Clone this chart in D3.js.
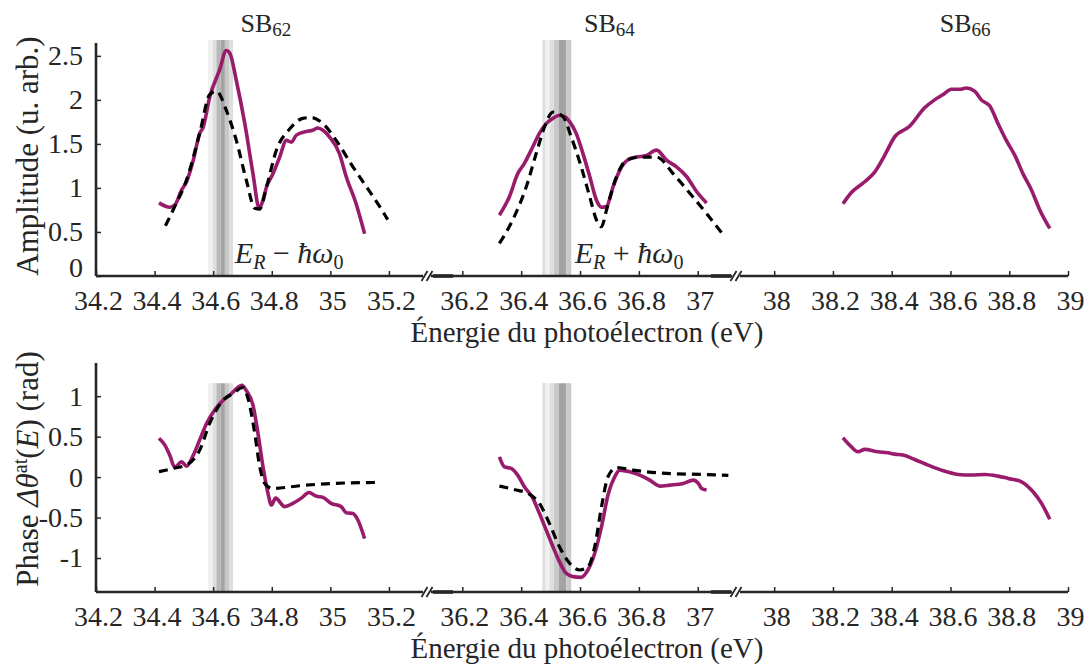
<!DOCTYPE html>
<html><head><meta charset="utf-8">
<script src="https://cdn.jsdelivr.net/npm/d3@7"></script>
<style>
body{margin:0;background:#fff}
svg{display:block}
text{font-family:"Liberation Serif","Times New Roman",serif;fill:#262626}
</style>
</head><body>
<svg id="c" width="1089" height="668"></svg>
<script>
// ---------- data ----------
const segDomains = [[34.2, 35.33], [36.08, 37.13], [37.87, 39.0]];
const segTicks = [[34.2, 34.4, 34.6, 34.8, 35, 35.2], [36.2, 36.4, 36.6, 36.8, 37], [38, 38.2, 38.4, 38.6, 38.8, 39]];
const sidebandNames = ["62", "64", "66"];
const sidebandTitleE = [34.78, 36.70, 38.65];
const ampTicks = [0, 0.5, 1, 1.5, 2, 2.5];
const phaseTicks = [-1, -0.5, 0, 0.5, 1];
const xLabel = "Énergie du photoélectron (eV)";
const ampLabel = "Amplitude (u. arb.)";

const ampExp62 = [[34.415,0.83],[34.452,0.78],[34.469,0.805],[34.492,0.975],[34.509,1.07],[34.532,1.315],[34.554,1.62],[34.566,1.69],[34.588,2.03],[34.622,2.34],[34.645,2.56],[34.657,2.53],[34.679,2.22],[34.708,1.73],[34.736,1.16],[34.757,0.77],[34.770,0.86],[34.782,1.01],[34.804,1.16],[34.827,1.35],[34.850,1.54],[34.867,1.52],[34.884,1.60],[34.918,1.64],[34.940,1.655],[34.957,1.68],[34.975,1.655],[34.997,1.58],[35.031,1.39],[35.054,1.13],[35.088,0.82],[35.117,0.48]];
const ampModel62 = [[34.437,0.57],[34.469,0.79],[34.509,1.09],[34.554,1.62],[34.588,2.06],[34.611,2.10],[34.645,1.88],[34.679,1.54],[34.713,1.09],[34.742,0.77],[34.759,0.76],[34.782,1.01],[34.816,1.43],[34.861,1.67],[34.906,1.79],[34.935,1.80],[34.975,1.73],[35.020,1.54],[35.077,1.24],[35.134,0.96],[35.168,0.79],[35.196,0.64]];
const ampExp64 = [[36.326,0.69],[36.360,0.90],[36.388,1.16],[36.411,1.28],[36.440,1.47],[36.462,1.62],[36.485,1.73],[36.508,1.79],[36.530,1.825],[36.548,1.81],[36.565,1.75],[36.587,1.62],[36.610,1.39],[36.633,1.13],[36.656,0.86],[36.673,0.78],[36.690,0.79],[36.712,1.01],[36.735,1.20],[36.763,1.32],[36.792,1.35],[36.826,1.37],[36.860,1.43],[36.894,1.315],[36.928,1.24],[36.962,1.13],[36.996,0.96],[37.030,0.83]];
const ampModel64 = [[36.326,0.37],[36.371,0.635],[36.417,1.01],[36.451,1.39],[36.479,1.69],[36.508,1.86],[36.542,1.81],[36.570,1.58],[36.604,1.24],[36.633,0.90],[36.656,0.635],[36.673,0.56],[36.690,0.75],[36.724,1.13],[36.758,1.315],[36.803,1.35],[36.860,1.35],[36.917,1.16],[36.973,0.94],[37.030,0.71],[37.087,0.465]];
const ampExp66 = [[38.234,0.82],[38.262,0.945],[38.308,1.07],[38.342,1.18],[38.376,1.37],[38.410,1.58],[38.461,1.70],[38.512,1.91],[38.546,2.00],[38.575,2.06],[38.603,2.12],[38.631,2.12],[38.654,2.135],[38.682,2.10],[38.705,2.00],[38.734,1.93],[38.762,1.73],[38.790,1.54],[38.819,1.37],[38.847,1.16],[38.876,0.975],[38.904,0.75],[38.938,0.54]];

const phaseExp62 = [[34.415,0.48],[34.435,0.395],[34.452,0.27],[34.469,0.12],[34.492,0.19],[34.509,0.135],[34.532,0.27],[34.554,0.46],[34.577,0.66],[34.605,0.83],[34.634,0.95],[34.662,1.03],[34.685,1.11],[34.698,1.135],[34.713,1.07],[34.736,0.89],[34.753,0.54],[34.770,0.13],[34.787,-0.20],[34.799,-0.345],[34.813,-0.26],[34.844,-0.365],[34.872,-0.325],[34.901,-0.26],[34.927,-0.19],[34.952,-0.235],[34.975,-0.25],[35.003,-0.325],[35.037,-0.365],[35.054,-0.44],[35.077,-0.45],[35.094,-0.53],[35.117,-0.76]];
const phaseModel62 = [[34.415,0.066],[34.463,0.107],[34.514,0.16],[34.554,0.333],[34.588,0.663],[34.634,0.951],[34.668,1.033],[34.702,1.107],[34.719,0.971],[34.742,0.540],[34.759,0.127],[34.776,-0.078],[34.804,-0.140],[34.895,-0.107],[35.009,-0.078],[35.162,-0.066]];
const phaseExp64 = [[36.326,0.25],[36.343,0.127],[36.366,0.107],[36.388,0.025],[36.411,-0.119],[36.440,-0.263],[36.462,-0.449],[36.485,-0.654],[36.508,-0.86],[36.530,-1.045],[36.553,-1.189],[36.576,-1.23],[36.604,-1.239],[36.627,-1.148],[36.650,-0.942],[36.673,-0.613],[36.695,-0.222],[36.718,0.004],[36.735,0.086],[36.769,0.066],[36.803,0.025],[36.837,-0.037],[36.871,-0.111],[36.905,-0.099],[36.951,-0.078],[36.985,-0.037],[37.002,-0.078],[37.013,-0.14],[37.030,-0.16]];
const phaseModel64 = [[36.326,-0.111],[36.383,-0.16],[36.423,-0.201],[36.462,-0.325],[36.496,-0.572],[36.530,-0.86],[36.565,-1.066],[36.599,-1.148],[36.627,-1.107],[36.650,-0.86],[36.673,-0.366],[36.695,0.004],[36.724,0.119],[36.780,0.086],[36.894,0.045],[37.008,0.033],[37.104,0.021]];
const phaseExp66 = [[38.234,0.486],[38.257,0.395],[38.285,0.313],[38.308,0.342],[38.353,0.313],[38.387,0.300],[38.410,0.284],[38.438,0.272],[38.478,0.218],[38.524,0.148],[38.569,0.086],[38.626,0.033],[38.671,0.025],[38.717,0.033],[38.762,0.012],[38.796,-0.016],[38.842,-0.058],[38.881,-0.181],[38.910,-0.325],[38.938,-0.522]];

// resonance bands: [E start, E end, shade level]
const bandSB62 = [[34.583,34.598,0],[34.598,34.611,1],[34.611,34.625,3],[34.625,34.640,4],[34.640,34.654,2],[34.654,34.668,1]];
const bandSB64 = [[36.472,36.483,1],[36.483,36.496,0],[36.496,36.511,1],[36.511,36.527,2],[36.527,36.553,4],[36.553,36.570,2]];
const annotE = [34.674, 36.582];
const annotSign = ["−", "+"];

// ---------- layout ----------
const svg = d3.select("#c");
const ink = "#262626", purple = "#991b6b";
const xLeft = 96, xRight = 1068, breaks = [427, 736];
const segRanges = [[xLeft, breaks[0]], [breaks[0], breaks[1]], [breaks[1], xRight]];
const xs = segDomains.map((d, i) => d3.scaleLinear().domain(d).range(segRanges[i]));
const shade = ["#f0f0f0", "#dedede", "#c9c9c9", "#b8b8b8", "#a3a3a3"];

const panels = [
  { axisTop: 43, range: [276, 40], domain: [0, 2.68], ticks: ampTicks, bandTop: 2.68,
    exp: [ampExp62, ampExp64, ampExp66], model: [ampModel62, ampModel64, null] },
  { axisTop: 363, range: [592, 363], domain: [-1.42, 1.41], ticks: phaseTicks, bandTop: 1.16,
    exp: [phaseExp62, phaseExp64, phaseExp66], model: [phaseModel62, phaseModel64, null] }
];
const bands = [bandSB62, bandSB64];

panels.forEach((p, pi) => {
  const y = d3.scaleLinear().domain(p.domain).range(p.range);
  const g = svg.append("g");
  const y0 = p.range[0];

  // bands
  bands.forEach((b, si) => {
    g.selectAll(null).data(b).enter().append("rect")
      .attr("x", d => xs[si](d[0]))
      .attr("width", d => xs[si](d[1]) - xs[si](d[0]))
      .attr("y", y(p.bandTop))
      .attr("height", y(p.domain[0]) - y(p.bandTop))
      .attr("fill", d => shade[d[2]]);
  });

  // curves
  xs.forEach((x, si) => {
    const line = d3.line().x(d => x(d[0])).y(d => y(d[1])).curve(d3.curveMonotoneX);
    g.append("path").datum(p.exp[si]).attr("d", line)
      .attr("fill", "none").attr("stroke", purple).attr("stroke-width", 3.6)
      .attr("stroke-linejoin", "round").attr("stroke-linecap", "butt");
    if (p.model[si]) {
      g.append("path").datum(p.model[si]).attr("d", line)
        .attr("fill", "none").attr("stroke", "#000").attr("stroke-width", 3.2)
        .attr("stroke-dasharray", "9,6");
    }
  });

  // y axis
  const ya = g.append("g").attr("transform", `translate(${xLeft},0)`)
    .call(d3.axisLeft(y).tickValues(p.ticks).tickSize(-5).tickPadding(13).tickFormat(d => String(d)));
  ya.select(".domain").remove();
  ya.selectAll("line").attr("stroke", ink).attr("stroke-width", 1.5);
  ya.selectAll("text").attr("font-size", 28).attr("font-family", "Liberation Serif").attr("fill", ink)
    .attr("dy", (d) => (pi === 0 && d === 0) ? "0em" : "0.32em");
  g.append("line").attr("x1", xLeft).attr("x2", xLeft).attr("y1", p.axisTop).attr("y2", y0)
    .attr("stroke", ink).attr("stroke-width", 2.6);

  // x axes per segment
  xs.forEach((x, si) => {
    const xa = g.append("g").attr("transform", `translate(0,${y0})`)
      .call(d3.axisBottom(x).tickValues(segTicks[si]).tickSize(-5).tickPadding(14).tickFormat(d => String(d)));
    xa.select(".domain").remove();
    xa.selectAll("line").attr("stroke", ink).attr("stroke-width", 1.5);
    xa.selectAll("text").attr("font-size", 28).attr("font-family", "Liberation Serif").attr("fill", ink).attr("dx", 2);
  });
  // axis line with breaks
  const gap = 4;
  [[xLeft, breaks[0] - gap], [breaks[0] + gap, breaks[1] - gap], [breaks[1] + gap, xRight]].forEach(s => {
    g.append("line").attr("x1", s[0]).attr("x2", s[1]).attr("y1", y0).attr("y2", y0)
      .attr("stroke", ink).attr("stroke-width", 2.6);
  });
  g.append("line").attr("x1", breaks[0] + 6).attr("x2", breaks[0] + 26).attr("y1", y0).attr("y2", y0)
    .attr("stroke", ink).attr("stroke-width", 3.6);
  g.append("line").attr("x1", breaks[1] - 25).attr("x2", breaks[1] - 5).attr("y1", y0).attr("y2", y0)
    .attr("stroke", ink).attr("stroke-width", 3.6);
  breaks.forEach(bx => {
    [-2.5, 2.5].forEach(o => {
      g.append("line").attr("x1", bx + o - 3).attr("x2", bx + o + 3).attr("y1", y0 + 5).attr("y2", y0 - 5)
        .attr("stroke", ink).attr("stroke-width", 1.8);
    });
  });

  // x label
  g.append("text").attr("x", 587).attr("y", y0 + 66).attr("text-anchor", "middle")
    .attr("font-size", 29).text(xLabel);
});

// y labels
svg.append("text").attr("transform", "translate(38,156) rotate(-90)").attr("text-anchor", "middle")
  .attr("font-size", 31).text(ampLabel);
const ph = svg.append("text").attr("transform", "translate(38,469) rotate(-90)").attr("text-anchor", "middle")
  .attr("font-size", 31);
ph.append("tspan").text("Phase ");
ph.append("tspan").attr("font-style", "italic").text("Δθ");
ph.append("tspan").attr("font-size", 20).attr("dy", -11).text("at");
ph.append("tspan").attr("dy", 11).text("(");
ph.append("tspan").attr("font-style", "italic").text("E");
ph.append("tspan").text(") (rad)");

// titles
sidebandNames.forEach((n, i) => {
  const t = svg.append("text").attr("x", xs[i](sidebandTitleE[i])).attr("y", 32).attr("text-anchor", "middle").attr("font-size", 26);
  t.append("tspan").text("SB");
  t.append("tspan").attr("font-size", 19).attr("dy", 4).text(n);
});

// annotations
const yTop = d3.scaleLinear().domain(panels[0].domain).range(panels[0].range);
annotE.forEach((e, i) => {
  const t = svg.append("text").attr("x", xs[i](e)).attr("y", yTop(0.148)).attr("font-size", 30);
  t.append("tspan").attr("font-style", "italic").text("E");
  t.append("tspan").attr("font-style", "italic").attr("font-size", 20).attr("dy", 6).text("R");
  t.append("tspan").attr("dy", -6).text(" " + annotSign[i] + " ");
  t.append("tspan").attr("font-style", "italic").text("ħω");
  t.append("tspan").attr("font-size", 20).attr("dy", 6).text("0");
});
</script>
</body></html>
